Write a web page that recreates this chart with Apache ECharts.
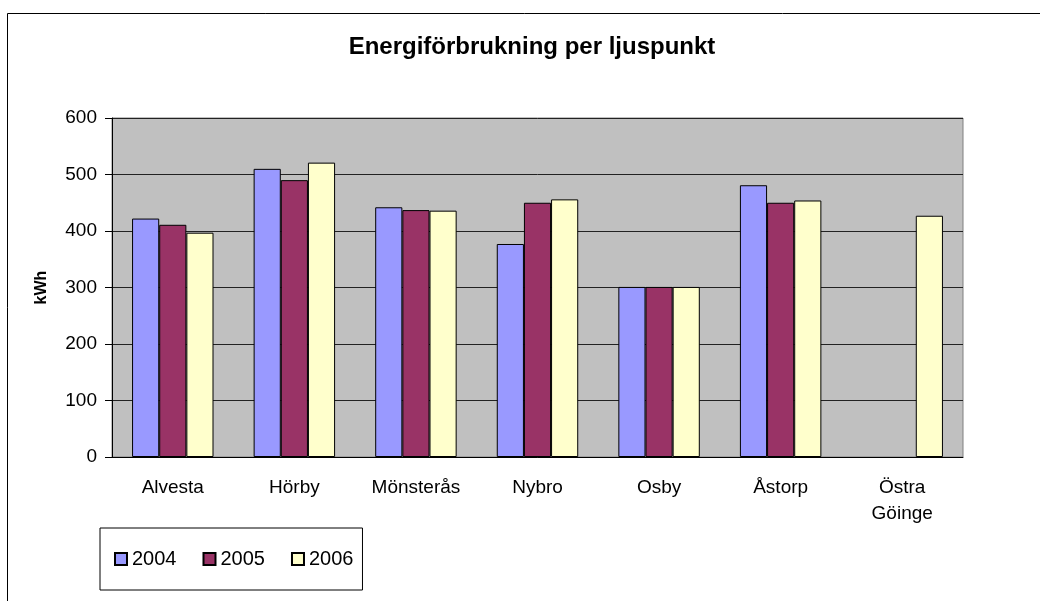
<!DOCTYPE html>
<html lang="sv">
<head>
<meta charset="UTF-8">
<title>Energiförbrukning per ljuspunkt</title>
<script src="https://cdn.jsdelivr.net/npm/echarts@6/dist/echarts.min.js"></script>
<style>
  html, body { margin: 0; padding: 0; background: #fff; }
  #chart { width: 1040px; height: 601px; }
</style>
</head>
<body>
<div id="chart"></div>
<script>
  // data
  var kommuner = ['Alvesta', 'Hörby', 'Mönsterås', 'Nybro', 'Osby', 'Åstorp', 'Östra\nGöinge'];
  var v2004 = [422, 510, 442, 377, 301, 481, null];
  var v2005 = [411, 490, 437, 450, 301, 450, null];
  var v2006 = [397, 521, 436, 456, 301, 454, 427];

  var font = '"Liberation Sans", Arial, sans-serif';

  function bar(name, data, color) {
    return {
      name: name,
      type: 'bar',
      data: data,
      barGap: '0%',
      barCategoryGap: '33%',
      itemStyle: { color: color, borderColor: '#000', borderWidth: 1 }
    };
  }

  var myChart = echarts.init(document.getElementById('chart'));
  myChart.setOption({
    animation: false,
    textStyle: { fontFamily: font },
    graphic: [
      {
        type: 'rect',
        shape: { x: 7.5, y: 13.5, width: 1040, height: 600 },
        style: { fill: 'none', stroke: '#000', lineWidth: 1 },
        silent: true
      },
      {
        type: 'text',
        x: 532, y: 35,
        style: {
          text: 'Energiförbrukning per ljuspunkt',
          font: 'bold 24px ' + font,
          fill: '#000',
          textAlign: 'center'
        }
      }
    ],
    grid: {
      left: 112, right: 77, top: 118, bottom: 144,
      show: true,
      backgroundColor: '#C0C0C0',
      borderColor: '#808080',
      borderWidth: 1
    },
    legend: {
      left: 100, top: 528,
      padding: [21, 9, 21, 14],
      borderColor: '#000',
      borderWidth: 1,
      itemWidth: 12, itemHeight: 12, itemGap: 26,
      icon: 'rect',
      textStyle: { fontSize: 20, color: '#000', fontFamily: font }
    },
    xAxis: {
      type: 'category',
      data: kommuner,
      axisLine: { lineStyle: { color: '#000' } },
      axisTick: { length: 7, lineStyle: { color: '#000' } },
      axisLabel: { color: '#000', fontSize: 19, margin: 18, lineHeight: 26, fontFamily: font }
    },
    yAxis: {
      type: 'value',
      min: 0, max: 600, interval: 100,
      name: 'kWh',
      nameLocation: 'middle',
      nameRotate: 90,
      nameGap: 62,
      nameTextStyle: { fontWeight: 'bold', fontSize: 16, color: '#000', fontFamily: font },
      axisLine: { show: true, lineStyle: { color: '#000' } },
      axisTick: { show: true, length: 7, lineStyle: { color: '#000' } },
      axisLabel: { color: '#000', fontSize: 19, margin: 15, fontFamily: font },
      splitLine: { lineStyle: { color: '#222', width: 1 } }
    },
    series: [
      bar('2004', v2004, '#9999FF'),
      bar('2005', v2005, '#993366'),
      bar('2006', v2006, '#FFFFCC')
    ]
  });
</script>
</body>
</html>
